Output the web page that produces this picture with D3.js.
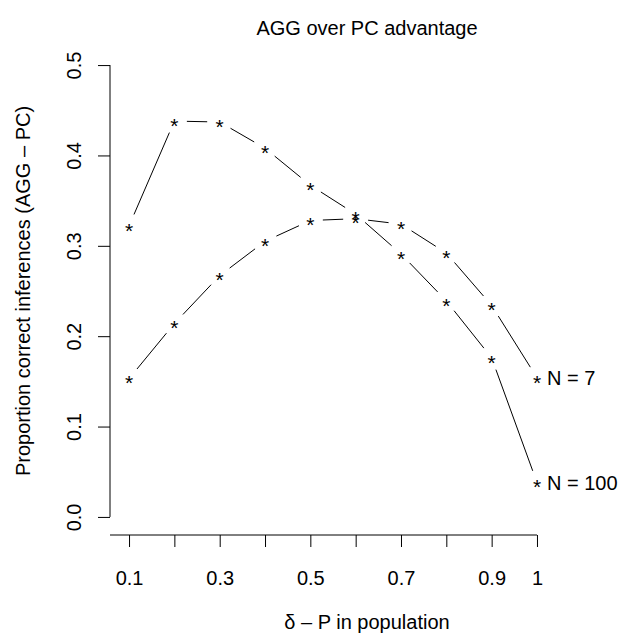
<!DOCTYPE html>
<html lang="en">
<head>
<meta charset="UTF-8">
<title>AGG over PC advantage</title>
<style>
  body { margin: 0; background: #fff; }
  svg text { font-family: "Liberation Sans", Arial, Helvetica, sans-serif; fill: #000; }
</style>
<script src="https://d3js.org/d3.v7.min.js"></script>
</head>
<body>
<div id="chart"></div>
<script>
// data
var deltaP = [0.1, 0.2, 0.3, 0.4, 0.5, 0.6, 0.7, 0.8, 0.9, 1.0];
var advN100 = [0.322, 0.438, 0.437, 0.408, 0.367, 0.335, 0.291, 0.239, 0.176, 0.038];
var advN7 = [0.153, 0.214, 0.267, 0.305, 0.328, 0.330, 0.324, 0.292, 0.234, 0.154];
var seriesNames = ["N = 100", "N = 7"];

var xTicks = [0.1, 0.2, 0.3, 0.4, 0.5, 0.6, 0.7, 0.8, 0.9, 1.0];
var xTickLabels = ["0.1", "", "0.3", "", "0.5", "", "0.7", "", "0.9", "1"];
var yTicks = [0, 0.1, 0.2, 0.3, 0.4, 0.5];
var yTickLabels = ["0.0", "0.1", "0.2", "0.3", "0.4", "0.5"];

var W = 632, H = 636;
var plot = {left: 110, right: 624, top: 47, bottom: 535};

var svg = d3.select("#chart").append("svg")
    .attr("width", W)
    .attr("height", H);

// plot region (R style: xlim 0.1..1.15, ylim 0..0.5, 4% padding)
var x = d3.scaleLinear().domain([0.058, 1.192]).range([plot.left, plot.right]);
var y = d3.scaleLinear().domain([-0.02, 0.52]).range([plot.bottom, plot.top]);

var fs = 20;

// x axis
var gx = svg.append("g")
    .attr("transform", "translate(0," + plot.bottom + ")")
    .call(d3.axisBottom(x)
        .tickValues(xTicks)
        .tickSize(12)
        .tickFormat(function(d, i) { return xTickLabels[i]; }));
gx.select(".domain").remove();
gx.append("line")
    .attr("x1", plot.left).attr("x2", x(1))
    .attr("y1", 0).attr("y2", 0)
    .attr("stroke", "#000");
gx.selectAll(".tick line").attr("stroke", "#000");
gx.selectAll(".tick text")
    .attr("y", 50).attr("dy", 0)
    .style("font-size", fs + "px")
    .style("font-family", "'Liberation Sans', Arial, sans-serif")
    .attr("fill", "#000");

// y axis
var gy = svg.append("g")
    .attr("transform", "translate(" + plot.left + ",0)")
    .call(d3.axisLeft(y)
        .tickValues(yTicks)
        .tickSize(12)
        .tickFormat(function(d, i) { return yTickLabels[i]; }));
gy.select(".domain").remove();
gy.append("line")
    .attr("x1", 0).attr("x2", 0)
    .attr("y1", y(0)).attr("y2", y(0.5))
    .attr("stroke", "#000");
gy.selectAll(".tick line").attr("stroke", "#000");
gy.selectAll(".tick text")
    .attr("transform", "rotate(-90)")
    .attr("x", 0).attr("y", -29).attr("dy", 0)
    .style("text-anchor", "middle")
    .style("font-size", fs + "px")
    .style("font-family", "'Liberation Sans', Arial, sans-serif")
    .attr("fill", "#000");

// titles
svg.append("text")
    .attr("x", 367).attr("y", 35)
    .attr("text-anchor", "middle")
    .style("font-size", fs + "px")
    .text("AGG over PC advantage");

svg.append("text")
    .attr("x", 367).attr("y", 629)
    .attr("text-anchor", "middle")
    .style("font-size", fs + "px")
    .text("\u03b4 \u2013 P in population");

svg.append("text")
    .attr("transform", "translate(30," + ((plot.top + plot.bottom) / 2) + ") rotate(-90)")
    .attr("text-anchor", "middle")
    .style("font-size", fs + "px")
    .text("Proportion correct inferences (AGG \u2013 PC)");

// series drawn as type = "b": stars with gapped segments
var gap = 12.5;
var starSize = 21;
var allSeries = [advN100, advN7];

allSeries.forEach(function(vals, si) {
    var pts = deltaP.map(function(p, i) { return [x(p), y(vals[i])]; });
    var segs = [];
    for (var i = 0; i < pts.length - 1; i++) {
        var a = pts[i], b = pts[i + 1];
        var dx = b[0] - a[0], dy = b[1] - a[1];
        var len = Math.sqrt(dx * dx + dy * dy);
        if (len <= 2 * gap) continue;
        var ux = dx / len, uy = dy / len;
        segs.push([a[0] + ux * gap, a[1] + uy * gap, b[0] - ux * gap, b[1] - uy * gap]);
    }
    svg.append("g").selectAll("line")
        .data(segs)
        .enter()
        .append("line")
        .attr("x1", function(d) { return d[0]; })
        .attr("y1", function(d) { return d[1]; })
        .attr("x2", function(d) { return d[2]; })
        .attr("y2", function(d) { return d[3]; })
        .attr("stroke", "#000")
        .attr("stroke-width", 1);

    svg.append("g").selectAll("text")
        .data(pts)
        .enter()
        .append("text")
        .attr("x", function(d) { return d[0]; })
        .attr("y", function(d) { return d[1] + starSize * 0.56; })
        .attr("text-anchor", "middle")
        .style("font-size", starSize + "px")
        .text("*");

    var last = pts[pts.length - 1];
    svg.append("text")
        .attr("x", last[0] + 10)
        .attr("y", last[1])
        .attr("dy", "0.36em")
        .style("font-size", fs + "px")
        .text(seriesNames[si]);
});
</script>
</body>
</html>
